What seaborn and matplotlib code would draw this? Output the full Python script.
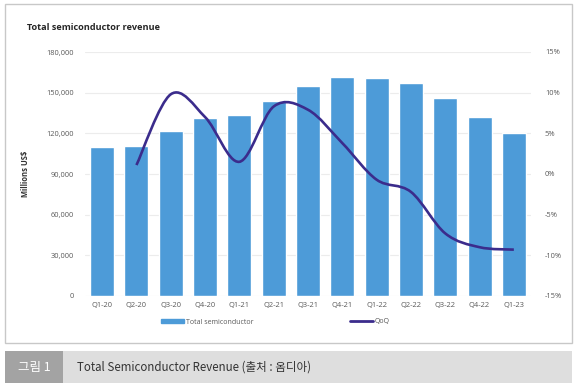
import matplotlib
matplotlib.use("Agg")
import matplotlib.pyplot as plt
import seaborn as sns
import numpy as np
from matplotlib.path import Path
from matplotlib.patches import PathPatch, Rectangle
from matplotlib.lines import Line2D
from matplotlib.ticker import FuncFormatter, MultipleLocator

# --- data ---
quarters = ["Q1-20", "Q2-20", "Q3-20", "Q4-20", "Q1-21", "Q2-21", "Q3-21",
            "Q4-21", "Q1-22", "Q2-22", "Q3-22", "Q4-22", "Q1-23"]
revenue = [110000, 111000, 122000, 131000, 133500, 144000, 155000,
           161500, 161000, 157000, 146000, 132000, 120000]
qoq_quarters = quarters[1:]
qoq = [1.1, 9.8, 7.0, 1.5, 8.3, 7.9, 3.8, -0.7, -2.2, -7.3, -9.0, -9.3]

bar_color = "#4d9bd8"
line_color = "#3b2c8c"
tick_color = "#595959"

sns.set_theme(style="white")
plt.rcParams["font.family"] = ["Open Sans", "DejaVu Sans"]

fig = plt.figure(figsize=(5.8, 3.9), dpi=100)
ax = fig.add_axes([85 / 580, 1 - 296 / 390, 446 / 580, 244 / 390])

# --- bars ---
sns.barplot(x=quarters, y=revenue, ax=ax, color=bar_color, width=0.7,
            saturation=1, zorder=2)
ax.set_xlim(-0.5, len(quarters) - 0.5)
ax.set_ylim(0, 180000)
ax.yaxis.set_major_locator(MultipleLocator(30000))
ax.yaxis.set_major_formatter(FuncFormatter(lambda v, p: f"{int(v):,}"))
ax.grid(axis="y", color="#ececec", linewidth=0.8, zorder=0)
ax.set_axisbelow(True)
for s in ax.spines.values():
    s.set_visible(False)
ax.tick_params(axis="both", length=0, labelsize=5.4, labelcolor=tick_color)
ax.tick_params(axis="y", pad=8)
ax.tick_params(axis="x", pad=4)
ax.set_xlabel("")
ax.set_ylabel("Millions US$", fontsize=5.5, fontweight="bold", color="#333333",
              labelpad=12)

# --- QoQ line on the right axis (smoothed like Excel) ---
ax2 = ax.twinx()
ax2.set_ylim(-15, 15)
ax2.yaxis.set_major_locator(MultipleLocator(5))
ax2.yaxis.set_major_formatter(FuncFormatter(lambda v, p: f"{int(v)}%"))
for s in ax2.spines.values():
    s.set_visible(False)
ax2.tick_params(axis="y", length=0, labelsize=5.4, labelcolor=tick_color, pad=10)
ax2.grid(False)

xs = np.array([quarters.index(q) for q in qoq_quarters], dtype=float)
ys = np.array(qoq)
verts = [(xs[0], ys[0])]
codes = [Path.MOVETO]
n = len(xs)
for i in range(n - 1):
    p0 = (xs[max(i - 1, 0)], ys[max(i - 1, 0)])
    p1 = (xs[i], ys[i])
    p2 = (xs[i + 1], ys[i + 1])
    p3 = (xs[min(i + 2, n - 1)], ys[min(i + 2, n - 1)])
    c1 = (p1[0] + (p2[0] - p0[0]) / 6, p1[1] + (p2[1] - p0[1]) / 6)
    c2 = (p2[0] - (p3[0] - p1[0]) / 6, p2[1] - (p3[1] - p1[1]) / 6)
    verts += [c1, c2, p2]
    codes += [Path.CURVE4] * 3
ax2.add_patch(PathPatch(Path(verts, codes), facecolor="none",
                        edgecolor=line_color, linewidth=1.9, zorder=3,
                        capstyle="butt"))

# --- title ---
fig.text(27 / 580, 1 - 27 / 390, "Total semiconductor revenue", fontsize=6.6,
         fontweight="bold", color="#262626", va="center", ha="left")

# --- legend ---
handles = [Rectangle((0, 0), 1, 1, color=bar_color),
           Line2D([0], [0], color=line_color, linewidth=2)]
leg = fig.legend(handles, ["Total semiconductor", "QoQ"], loc="center",
                 bbox_to_anchor=(0.475, 1 - 322 / 390), ncol=2, frameon=False,
                 fontsize=5, columnspacing=14, handlelength=3.2,
                 handleheight=0.5, handletextpad=0.3)
for t in leg.get_texts():
    t.set_color(tick_color)

# --- chart frame ---
fig.patches.append(Rectangle((5 / 580, 1 - 343 / 390), 567 / 580, 339 / 390,
                             transform=fig.transFigure, facecolor="none",
                             edgecolor="#c8c8c8", linewidth=1.0))

# --- caption bar ---
fig.patches.append(Rectangle((5 / 580, 1 - 383 / 390), 58 / 580, 32 / 390,
                             transform=fig.transFigure, facecolor="#a3a3a3",
                             edgecolor="none"))
fig.patches.append(Rectangle((63 / 580, 1 - 383 / 390), 509 / 580, 32 / 390,
                             transform=fig.transFigure, facecolor="#dedede",
                             edgecolor="none"))
fig.text(34 / 580, 1 - 367 / 390, "그림 1", fontsize=9, color="white",
         ha="center", va="center", family=["Noto Sans CJK KR", "DejaVu Sans"])
fig.text(77 / 580, 1 - 367 / 390, "Total Semiconductor Revenue (출처 : 옴디아)",
         fontsize=8.3, color="#333333", ha="left", va="center",
         family=["Noto Sans CJK KR", "DejaVu Sans"])

fig.savefig("out.png", dpi=100)
